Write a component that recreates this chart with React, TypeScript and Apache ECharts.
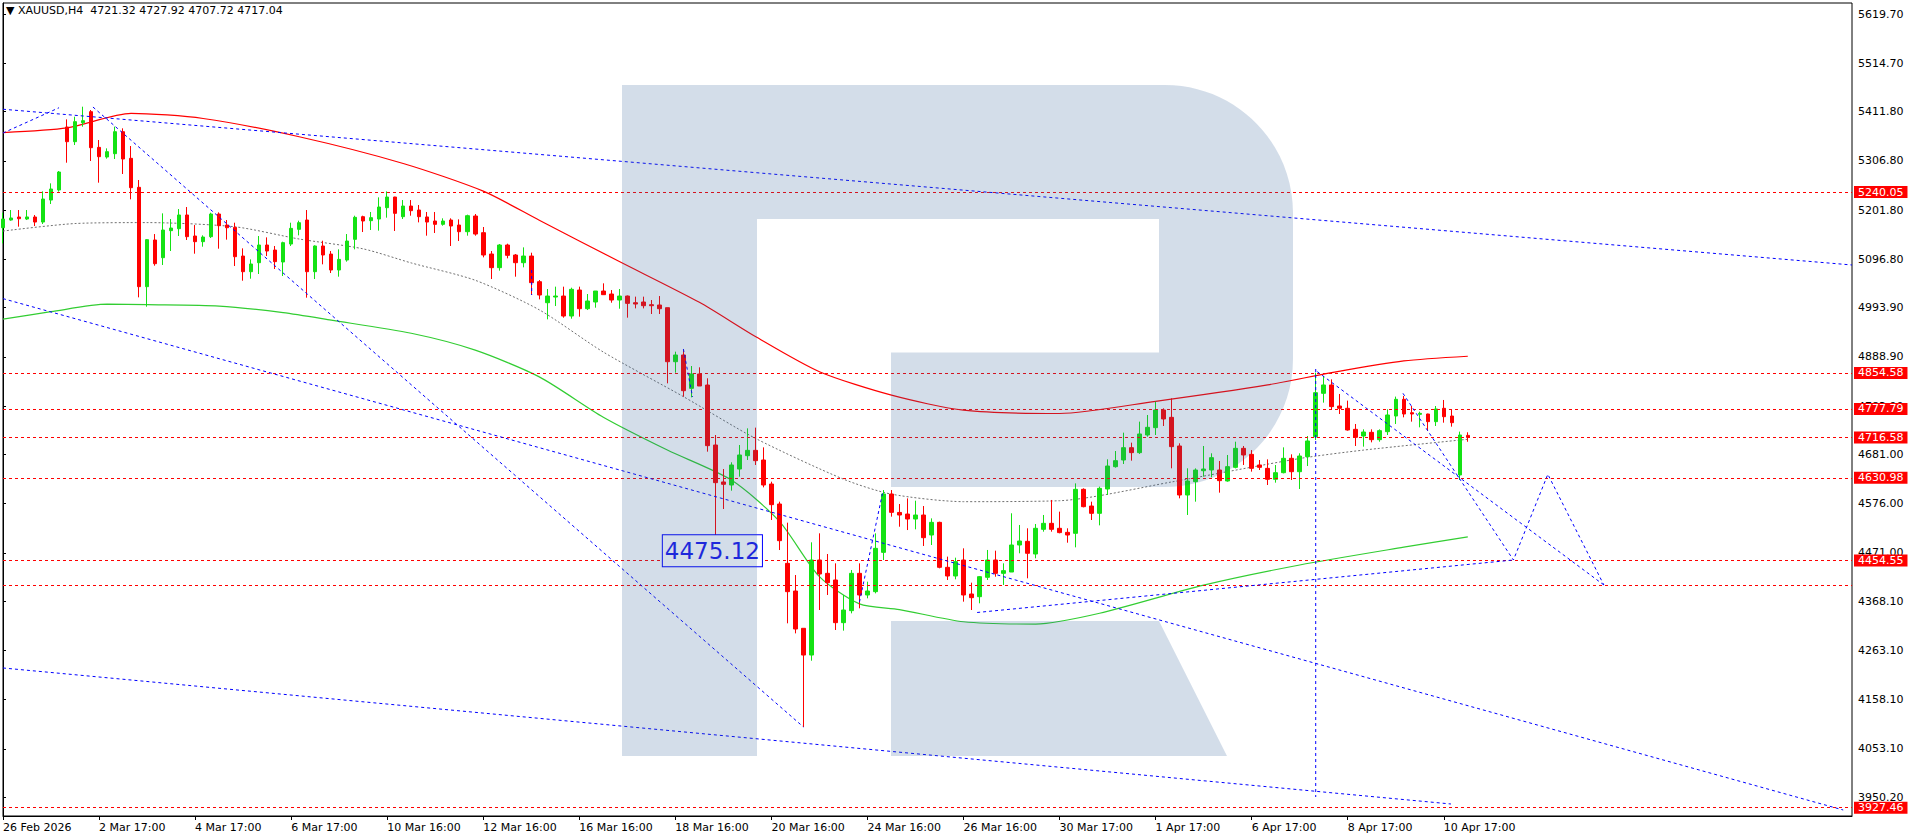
import React, { useEffect, useRef } from "react";
import * as echarts from "echarts";

const FONT = "DejaVu Sans";
const symbolName = "XAUUSD,H4";

// x axis: one label every 12 bars (H4)
const xTickLabels = [
  "26 Feb 2026", "2 Mar 17:00", "4 Mar 17:00", "6 Mar 17:00", "10 Mar 16:00", "12 Mar 16:00",
  "16 Mar 16:00", "18 Mar 16:00", "20 Mar 16:00", "24 Mar 16:00", "26 Mar 16:00", "30 Mar 17:00",
  "1 Apr 17:00", "6 Apr 17:00", "8 Apr 17:00", "10 Apr 17:00",
];
const barsPerLabel = 12;
const slotCount = 232; // bars + empty space on the right

// y axis
const yMin = 3909.8;
const yMax = 5643.2;
const yTickValues = [
  5619.7, 5514.7, 5411.8, 5306.8, 5201.8, 5096.8, 4993.9, 4888.9, 4783.9,
  4681.0, 4576.0, 4471.0, 4368.1, 4263.1, 4158.1, 4053.1, 3950.2,
];

// candles: [open, high, low, close]
const ohlc: number[][] = [
  [5164.1, 5196.1, 5130.7, 5182.6], [5180.5, 5201.8, 5179.1, 5184.8], [5186.9, 5201.8, 5166.3, 5183.3],
  [5182.6, 5201.8, 5180.5, 5187.0], [5186.9, 5191.2, 5167.7, 5176.2], [5176.2, 5241.6, 5172.0, 5225.3],
  [5223.1, 5258.7, 5214.6, 5246.6], [5244.5, 5285.0, 5241.0, 5282.8], [5378.8, 5395.1, 5302.7, 5347.5],
  [5347.5, 5400.8, 5340.4, 5390.2], [5388.0, 5422.1, 5379.5, 5392.3], [5411.5, 5415.0, 5306.3, 5334.7],
  [5335.4, 5351.1, 5260.1, 5315.5], [5314.8, 5333.3, 5311.3, 5326.2], [5321.9, 5379.5, 5310.6, 5368.8],
  [5368.8, 5376.0, 5278.6, 5310.6], [5312.0, 5338.3, 5224.6, 5249.4], [5250.2, 5265.8, 5015.6, 5038.4],
  [5038.4, 5140.0, 4995.7, 5138.6], [5137.9, 5150.6, 5083.1, 5087.4], [5100.2, 5194.7, 5084.6, 5159.2],
  [5157.8, 5182.6, 5114.4, 5163.4], [5162.0, 5203.9, 5146.4, 5191.2], [5191.2, 5208.2, 5137.9, 5145.0],
  [5146.4, 5169.8, 5108.7, 5134.3], [5134.3, 5147.8, 5123.6, 5144.2], [5145.0, 5196.1, 5142.1, 5193.3],
  [5193.3, 5196.8, 5119.4, 5168.4], [5169.8, 5180.5, 5138.6, 5164.1], [5164.8, 5174.8, 5082.4, 5102.3],
  [5103.7, 5120.1, 5051.1, 5070.3], [5070.3, 5096.6, 5055.4, 5086.7], [5089.5, 5146.4, 5065.4, 5127.2],
  [5127.2, 5143.5, 5103.7, 5114.4], [5116.5, 5125.1, 5076.0, 5091.7], [5091.0, 5134.3, 5061.1, 5132.2],
  [5129.3, 5174.8, 5125.1, 5162.7], [5160.6, 5179.1, 5147.8, 5174.8], [5180.5, 5201.8, 5014.9, 5070.3],
  [5070.3, 5126.5, 5054.7, 5125.1], [5125.1, 5136.4, 5086.0, 5105.9], [5107.9, 5114.4, 5067.5, 5073.9],
  [5073.9, 5118.0, 5059.7, 5096.6], [5095.2, 5150.6, 5091.7, 5135.7], [5139.3, 5189.7, 5118.0, 5186.2],
  [5187.6, 5189.7, 5154.9, 5178.4], [5179.1, 5197.6, 5159.2, 5185.5], [5182.6, 5228.8, 5157.8, 5208.2],
  [5206.8, 5241.6, 5185.5, 5229.5], [5229.5, 5230.0, 5157.1, 5194.7], [5187.6, 5223.1, 5182.6, 5210.3],
  [5210.3, 5223.1, 5189.7, 5200.4], [5201.8, 5212.5, 5175.5, 5187.6], [5187.0, 5197.6, 5147.1, 5176.2],
  [5178.4, 5197.6, 5152.8, 5171.3], [5171.3, 5184.1, 5168.4, 5178.4], [5180.5, 5184.1, 5125.1, 5167.7],
  [5169.8, 5181.9, 5135.7, 5155.6], [5155.6, 5191.9, 5147.1, 5189.7], [5189.0, 5193.3, 5147.1, 5150.6],
  [5153.5, 5165.6, 5100.9, 5105.9], [5108.0, 5114.4, 5054.7, 5078.9], [5078.9, 5129.3, 5072.5, 5127.2],
  [5127.2, 5130.0, 5098.8, 5105.2], [5105.9, 5108.0, 5059.7, 5089.5], [5089.5, 5122.2, 5079.6, 5103.7],
  [5103.7, 5110.8, 5020.6, 5046.9], [5049.0, 5052.6, 5011.3, 5020.6], [5004.2, 5033.4, 4968.7, 5018.4],
  [5016.3, 5038.4, 4997.1, 5018.4], [5018.4, 5038.4, 4972.3, 4975.8], [4975.8, 5036.2, 4970.1, 5032.7],
  [5031.2, 5038.4, 4974.4, 4991.4], [4991.4, 5022.7, 4988.6, 5007.8], [5005.7, 5029.1, 4993.6, 5029.1],
  [5029.1, 5045.5, 5020.6, 5021.3], [5022.7, 5031.2, 5004.2, 5009.9], [5009.9, 5033.4, 4991.4, 5018.4],
  [5018.4, 5019.5, 4972.3, 5002.8], [5004.2, 5017.1, 4992.1, 5001.4], [5005.7, 5017.1, 4992.1, 4997.8],
  [5000.0, 5009.9, 4980.1, 4997.8], [4999.3, 5018.4, 4980.1, 4991.4], [4993.6, 4993.6, 4832.3, 4878.4],
  [4878.4, 4899.8, 4855.0, 4892.7], [4892.7, 4903.3, 4803.8, 4816.6], [4821.6, 4869.2, 4802.4, 4852.2],
  [4852.2, 4866.4, 4826.6, 4826.6], [4828.7, 4843.0, 4686.6, 4699.4], [4700.8, 4722.1, 4475.12, 4620.5],
  [4622.0, 4649.6, 4564.3, 4617.0], [4615.5, 4663.9, 4603.4, 4658.2], [4649.6, 4700.8, 4633.3, 4679.5],
  [4678.0, 4736.3, 4668.8, 4689.4], [4689.4, 4737.8, 4658.2, 4667.4], [4668.8, 4695.8, 4610.5, 4615.5],
  [4617.6, 4622.6, 4540.9, 4573.6], [4575.0, 4580.0, 4476.9, 4496.8], [4448.5, 4535.2, 4320.6, 4388.1],
  [4389.5, 4423.6, 4299.2, 4308.5], [4310.0, 4310.0, 4099.6, 4253.0], [4253.0, 4493.3, 4240.9, 4455.6],
  [4455.6, 4512.5, 4349.0, 4425.8], [4427.2, 4468.4, 4381.0, 4407.3], [4413.0, 4448.5, 4306.4, 4322.0],
  [4322.0, 4381.0, 4305.0, 4349.0], [4347.6, 4434.3, 4341.9, 4427.2], [4427.2, 4448.5, 4352.6, 4381.0],
  [4381.0, 4409.4, 4373.9, 4389.5], [4388.1, 4512.5, 4384.5, 4480.5], [4471.9, 4604.8, 4455.6, 4596.3],
  [4596.3, 4604.8, 4548.0, 4557.2], [4557.0, 4575.0, 4526.6, 4551.5], [4553.6, 4587.0, 4519.5, 4543.0],
  [4543.0, 4582.1, 4521.0, 4551.5], [4551.5, 4570.7, 4485.5, 4503.2], [4508.9, 4544.4, 4487.6, 4535.9],
  [4535.9, 4537.3, 4437.8, 4440.0], [4440.0, 4462.8, 4413.0, 4421.5], [4421.5, 4460.6, 4414.4, 4452.1],
  [4455.6, 4480.5, 4366.8, 4381.0], [4383.1, 4407.3, 4349.0, 4375.3], [4377.4, 4421.5, 4363.3, 4420.1],
  [4418.7, 4477.0, 4413.0, 4455.6], [4455.6, 4475.5, 4420.0, 4427.2], [4427.2, 4448.5, 4402.4, 4432.9],
  [4430.0, 4555.2, 4430.0, 4487.6], [4487.6, 4530.3, 4469.9, 4496.1], [4495.4, 4523.2, 4416.6, 4469.9],
  [4468.4, 4532.4, 4459.2, 4523.2], [4521.0, 4551.6, 4516.0, 4533.8], [4533.8, 4583.6, 4516.0, 4521.0],
  [4523.2, 4558.7, 4512.5, 4514.0], [4514.6, 4523.2, 4492.5, 4508.9], [4512.5, 4619.0, 4482.6, 4606.3],
  [4606.3, 4608.4, 4567.9, 4569.3], [4570.7, 4580.0, 4540.9, 4555.1], [4555.1, 4612.0, 4529.5, 4608.4],
  [4607.0, 4670.3, 4594.2, 4656.0], [4654.6, 4688.0, 4652.5, 4667.4], [4668.8, 4727.1, 4660.3, 4695.1],
  [4695.1, 4705.8, 4667.4, 4684.5], [4684.5, 4750.6, 4681.7, 4724.3], [4722.1, 4764.8, 4718.6, 4738.5],
  [4737.8, 4793.2, 4722.1, 4775.5], [4775.5, 4779.0, 4741.3, 4756.3], [4759.8, 4800.3, 4651.1, 4697.3],
  [4698.7, 4704.4, 4587.1, 4594.2], [4594.2, 4651.1, 4551.6, 4624.1], [4622.6, 4651.0, 4580.0, 4647.5],
  [4646.0, 4698.7, 4633.3, 4649.6], [4647.5, 4683.1, 4632.0, 4673.8], [4647.5, 4666.7, 4599.2, 4624.8],
  [4624.1, 4679.5, 4622.6, 4654.7], [4653.2, 4707.9, 4651.0, 4693.7], [4693.7, 4698.7, 4658.2, 4679.5],
  [4680.9, 4690.0, 4644.0, 4651.0], [4658.2, 4668.8, 4647.5, 4653.2], [4651.0, 4670.2, 4615.5, 4627.6],
  [4627.6, 4658.2, 4620.5, 4641.8], [4641.8, 4695.8, 4640.4, 4672.4], [4672.4, 4680.9, 4626.2, 4643.9],
  [4643.9, 4683.1, 4607.0, 4677.3], [4676.0, 4720.0, 4656.0, 4709.4], [4718.6, 4855.0, 4711.5, 4812.4],
  [4811.0, 4847.9, 4791.1, 4828.8], [4828.8, 4840.8, 4775.5, 4782.6], [4783.9, 4809.6, 4766.9, 4779.0],
  [4779.0, 4795.4, 4731.4, 4732.8], [4734.2, 4745.6, 4698.7, 4717.2], [4720.0, 4734.2, 4697.3, 4728.5],
  [4727.8, 4734.2, 4706.5, 4712.2], [4712.2, 4734.2, 4707.9, 4731.4], [4729.2, 4776.9, 4722.1, 4764.8],
  [4762.6, 4804.0, 4745.6, 4798.2], [4798.2, 4805.3, 4759.8, 4766.9], [4769.7, 4783.9, 4750.6, 4766.9],
  [4766.2, 4771.9, 4738.5, 4768.3], [4766.9, 4767.5, 4731.4, 4750.6], [4750.6, 4783.9, 4741.3, 4777.6],
  [4779.0, 4796.8, 4748.4, 4761.2], [4762.6, 4775.5, 4739.9, 4748.4], [4636.9, 4729.3, 4626.2, 4722.1],
  [4721.32, 4727.92, 4707.72, 4717.04],
];

// horizontal levels
const levelLabeled = [5240.05, 4854.58, 4777.79, 4716.58, 4630.98, 4454.55, 3927.46];
const levelPlain = [4402.3];

// annotated low
const lowMarkIndex = 89;
const lowMarkValue = 4475.12;

// moving averages, read points [bar index, price]
const maRed = [
  [0, 5367], [8, 5377], [16, 5408], [25, 5397], [37, 5358], [50, 5301], [60, 5242],
  [67, 5180], [77, 5092], [87, 5005], [94, 4932], [102, 4857], [111, 4807],
  [120, 4775], [132, 4768], [144, 4794], [158, 4829], [166, 4855], [175, 4880], [183, 4890],
];
const maGray = [
  [0, 5157], [9, 5173], [18, 5175], [29, 5166], [37, 5140], [45, 5119], [51, 5089], [59, 5052],
  [67, 4989], [75, 4899], [85, 4804], [94, 4715], [105, 4628], [111, 4596],
  [120, 4580], [132, 4582], [146, 4622], [162, 4672], [170, 4690], [183, 4713],
];
const maGreen = [
  [0, 4969], [6, 4985], [13, 5001], [18, 5000], [27, 4997], [35, 4983], [41, 4967], [51, 4939],
  [59, 4903], [67, 4846], [75, 4760], [83, 4690], [91, 4626], [97, 4538], [102, 4420],
  [107, 4362], [112, 4350], [120, 4324], [129, 4319], [137, 4342],
  [150, 4402], [162, 4445], [175, 4483], [183, 4505],
];

// blue dashed drawings, [bar index, price] vertices
const blueLines = [
  [[0, 5416.7], [231, 5084.6]],
  [[0, 5366.0], [7.0, 5419.9]],
  [[11.24, 5421.4], [100, 4099.6]],
  [[0, 5012.9], [229.9, 3922.6]],
  [[0, 4225.4], [180.9, 3935.4]],
  [[164.0, 4862.8], [164.0, 3950.3]],
  [[107.0, 4366.0], [109.9, 4599.5]],
  [[121.7, 4343.7], [188.7, 4455.6]],
  [[164.2, 4857.1], [200.0, 4402.3]],
  [[174.9, 4811.0], [188.7, 4455.6], [193.0, 4638.3], [200.0, 4402.3]],
  [[66.05, 5073.9], [66.05, 5020.6]],
  [[85.0, 4905.5], [86.15, 4803.2]],
];

const GREEN = "#14e214";
const RED = "#ff0000";
const BLUE = "#0000ff";

const LOGO_D =
  "M622 85 L1165 85 C1235.7 85 1293 142.3 1293 213 L1293 359 C1293 429.7 1235.7 487 1165 487 " +
  "L891 487 L891 352.5 L1159 352.5 L1159 219 L757 219 L757 756 L622 756 Z " +
  "M891 621 L1159 621 L1227 756 L891 756 Z";

let logoRegistered = false;
function ensureLogo() {
  if (logoRegistered) return;
  echarts.graphic.registerShape("rlogo", echarts.graphic.extendPath(LOGO_D, {}) as any);
  logoRegistered = true;
}

export default function App() {
  const ref = useRef<HTMLDivElement>(null);

  useEffect(() => {
    if (!ref.current) return;
    ensureLogo();
    const chart = echarts.init(ref.current, null, { renderer: "svg" });

    const categories = Array.from({ length: slotCount }, (_, i) => String(i));
    const candleData = ohlc.map((r) => [r[0], r[3], r[2], r[1]]);
    const last = ohlc[ohlc.length - 1];
    const showTick = (i: number) => i % barsPerLabel === 0 && i / barsPerLabel < xTickLabels.length;

    const lineSeries = (data: number[][], color: string, width: number, type: any, z = 4, smooth: any = false) => ({
      type: "line",
      xAxisIndex: 1,
      yAxisIndex: 0,
      data,
      showSymbol: false,
      symbol: "none",
      silent: true,
      smooth,
      z,
      lineStyle: { color, width, type },
    });

    const option: any = {
      animation: false,
      backgroundColor: "#ffffff",
      textStyle: { fontFamily: FONT },
      title: {
        text: `▼ ${symbolName}  ${last.map((v) => v.toFixed(2)).join(" ")}`,
        left: 6,
        top: 5,
        padding: 0,
        textStyle: { fontFamily: FONT, fontSize: 11, fontWeight: "normal", color: "#000" },
      },
      grid: {
        left: 2,
        right: 64,
        top: 3,
        bottom: 24,
        show: true,
        borderColor: "#000",
        borderWidth: 1,
        backgroundColor: "transparent",
      },
      xAxis: [
        {
          type: "category",
          data: categories,
          boundaryGap: false,
          axisLine: { show: true, lineStyle: { color: "#000", width: 1 } },
          axisTick: { show: true, interval: showTick, length: 4, lineStyle: { color: "#000" } },
          axisLabel: {
            interval: showTick,
            formatter: (_v: string, idx: number) => xTickLabels[idx / barsPerLabel] ?? "",
            align: "left",
            margin: 6,
            fontFamily: FONT,
            fontSize: 11,
            color: "#000",
          },
          splitLine: { show: false },
        },
        { type: "value", min: 0, max: slotCount - 1, show: false },
      ],
      yAxis: {
        type: "value",
        position: "right",
        min: yMin,
        max: yMax,
        axisLine: { show: true, lineStyle: { color: "#000" } },
        axisTick: { show: true, customValues: yTickValues, length: 3, lineStyle: { color: "#000" } },
        axisLabel: {
          customValues: yTickValues,
          formatter: (v: number) => v.toFixed(2),
          margin: 6,
          fontFamily: FONT,
          fontSize: 11,
          color: "#000",
        },
        splitLine: { show: false },
      },
      graphic: [
        {
          type: "rlogo",
          x: 0,
          y: 0,
          shape: {},
          silent: true,
          z: 100,
          style: { fill: "rgba(45,95,150,0.21)" },
        },
      ],
      series: [
        lineSeries(maGreen, "#32cd32", 1.2, "solid", 2, 0.25),
        lineSeries(maGray, "#707070", 1, [2, 2], 2, 0.25),
        lineSeries(maRed, "#ff0000", 1.2, "solid", 2, 0.25),
        {
          type: "candlestick",
          xAxisIndex: 0,
          yAxisIndex: 0,
          data: candleData,
          barWidth: 4,
          z: 3,
          itemStyle: {
            color: GREEN,
            color0: RED,
            borderColor: GREEN,
            borderColor0: RED,
            borderWidth: 1,
          },
          markLine: {
            silent: true,
            symbol: ["none", "none"],
            lineStyle: { color: RED, width: 1, type: [3, 3] },
            label: {
              show: true,
              position: "end",
              distance: 2,
              formatter: (p: any) => Number(p.value).toFixed(2),
              color: "#fff",
              backgroundColor: RED,
              padding: [1, 4, 0, 4],
              fontFamily: FONT,
              fontSize: 11,
            },
            data: [
              ...levelLabeled.map((v) => ({ yAxis: v })),
              ...levelPlain.map((v) => ({ yAxis: v, label: { show: false } })),
            ],
          },
          markPoint: {
            silent: true,
            symbol: "rect",
            symbolSize: 1,
            itemStyle: { color: "rgba(0,0,0,0)" },
            label: {
              show: true,
              position: "inside",
              offset: [-3, 0],
              formatter: lowMarkValue.toFixed(2),
              color: "#1a1aee",
              fontFamily: FONT,
              fontSize: 23,
              lineHeight: 28,
              backgroundColor: "#ffffff",
              borderColor: BLUE,
              borderWidth: 1,
              padding: [2, 2, 1, 2],
            },
            data: [{ coord: [lowMarkIndex, lowMarkValue], value: lowMarkValue }],
          },
        },
        ...blueLines.map((pts) => lineSeries(pts, BLUE, 1, [3, 3], 5)),
      ],
    };

    chart.setOption(option);
    return () => chart.dispose();
  }, []);

  return (
    <div
      ref={ref}
      style={{ position: "fixed", left: 0, top: 0, width: 1916, height: 840, background: "#fff" }}
    />
  );
}
